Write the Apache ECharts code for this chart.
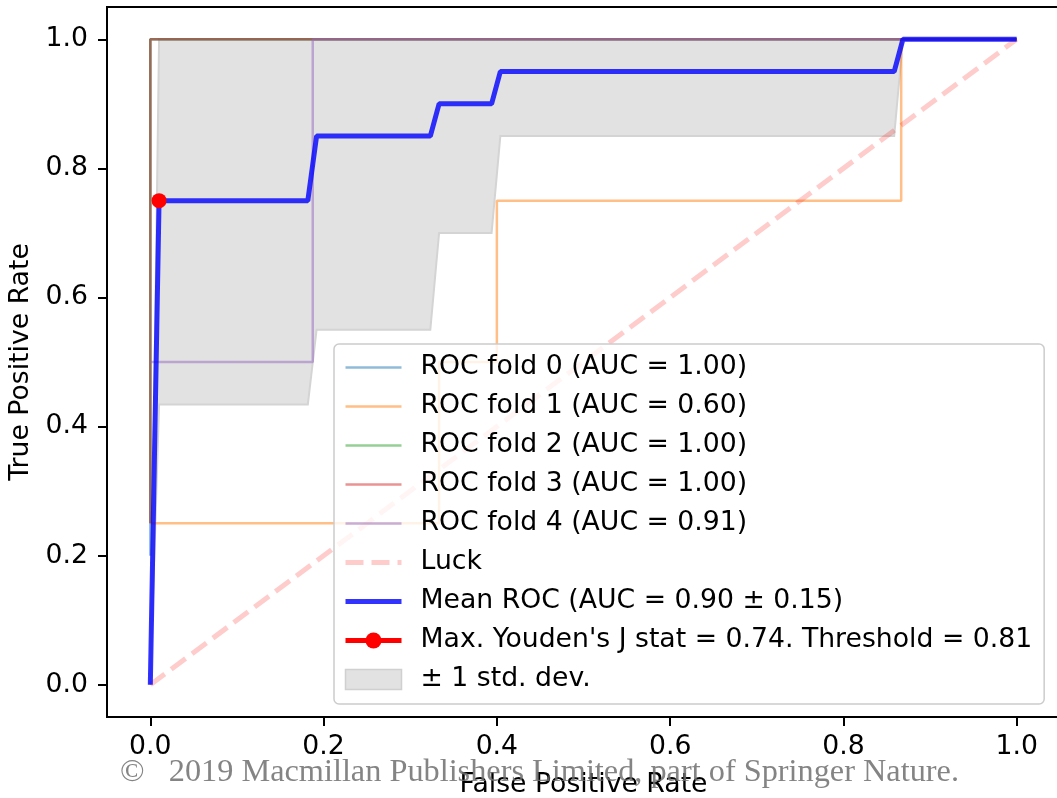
<!DOCTYPE html>
<html>
<head>
<meta charset="utf-8">
<script src="https://cdn.jsdelivr.net/npm/echarts@6/dist/echarts.min.js"></script>
<style>
  html, body { margin: 0; padding: 0; background: #fff; }
  #main { width: 1057px; height: 798px; }
</style>
</head>
<body>
<div id="main"></div>
<script>
// tick labels
const xTicks = [0, 0.2, 0.4, 0.6, 0.8, 1.0]
const yTicks = [0, 0.2, 0.4, 0.6, 0.8, 1.0]

// per-fold ROC curves
const fold0Fpr = [0, 0, 1]
const fold0Tpr = [0.2, 1, 1]
const fold1Fpr = [0, 0.3333, 0.3333, 0.4, 0.4, 0.8667, 0.8667, 1]
const fold1Tpr = [0.25, 0.25, 0.5, 0.5, 0.75, 0.75, 1, 1]
const fold2Fpr = [0, 0, 1]
const fold2Tpr = [0.25, 1, 1]
const fold3Fpr = [0, 0, 1]
const fold3Tpr = [0.25, 1, 1]
const fold4Fpr = [0, 0.1875, 0.1875, 1]
const fold4Tpr = [0.5, 0.5, 1, 1]
const foldNames = [
  'ROC fold 0 (AUC = 1.00)',
  'ROC fold 1 (AUC = 0.60)',
  'ROC fold 2 (AUC = 1.00)',
  'ROC fold 3 (AUC = 1.00)',
  'ROC fold 4 (AUC = 0.91)'
]

// chance line
const luckFpr = [0, 1]
const luckTpr = [0, 1]

// mean ROC and ±1 std band
const meanFpr = [0, 0.0101, 0.1818, 0.1919, 0.3232, 0.3333, 0.3939, 0.4040, 0.8586, 0.8687, 1]
const meanTpr = [0, 0.75, 0.75, 0.85, 0.85, 0.90, 0.90, 0.95, 0.95, 1, 1]
const bandLower = [0, 0.434, 0.434, 0.55, 0.55, 0.70, 0.70, 0.85, 0.85, 1, 1]
const bandUpper = [0, 1, 1, 1, 1, 1, 1, 1, 1, 1, 1]

// Youden point
const youdenFpr = [0.0101]
const youdenTpr = [0.75]

const FONT = 'DejaVu Sans'
const FS = 26.7
const zip = (xs, ys) => xs.map((x, i) => [x, ys[i]])

let myChart = echarts.init(document.getElementById('main'), null, { renderer: 'canvas' })

const foldColors = [
  'rgba(31,119,180,0.5)',
  'rgba(255,127,14,0.5)',
  'rgba(44,160,44,0.5)',
  'rgba(214,39,40,0.5)',
  'rgba(148,103,189,0.5)'
]
const foldData = [
  zip(fold0Fpr, fold0Tpr),
  zip(fold1Fpr, fold1Tpr),
  zip(fold2Fpr, fold2Tpr),
  zip(fold3Fpr, fold3Tpr),
  zip(fold4Fpr, fold4Tpr)
]
const meanName = 'Mean ROC (AUC = 0.90 ± 0.15)'
const youdenName = "Max. Youden's J stat = 0.74. Threshold = 0.81"
const bandName = '± 1 std. dev.'

let series = []
// ±1 std band as one polygon (upper edge forward, lower edge back)
series.push({
  name: bandName,
  type: 'custom',
  silent: true,
  itemStyle: { color: '#e2e2e2' },
  data: meanFpr.map((x, i) => [x, bandLower[i], bandUpper[i]]),
  encode: { x: 0, y: [1, 2] },
  renderItem: function (params, api) {
    if (params.dataIndex !== 0) return null
    let pts = []
    for (let i = 0; i < meanFpr.length; i++) pts.push(api.coord([meanFpr[i], bandUpper[i]]))
    for (let i = meanFpr.length - 1; i >= 0; i--) pts.push(api.coord([meanFpr[i], bandLower[i]]))
    return {
      type: 'polygon',
      shape: { points: pts },
      style: { fill: '#e2e2e2', stroke: '#d4d4d4', lineWidth: 2 }
    }
  },
  z: 1
})
for (let i = 0; i < 5; i++) {
  series.push({
    name: foldNames[i],
    type: 'line',
    symbol: 'none',
    data: foldData[i],
    itemStyle: { color: foldColors[i] },
    lineStyle: { color: foldColors[i], width: 2.5 },
    z: 2
  })
}
series.push({
  name: 'Luck',
  type: 'line',
  symbol: 'none',
  data: zip(luckFpr, luckTpr),
  itemStyle: { color: 'rgba(255,0,0,0.2)' },
  lineStyle: { color: 'rgba(255,0,0,0.2)', width: 5, type: [18, 8] },
  z: 2
})
series.push({
  name: meanName,
  type: 'line',
  symbol: 'none',
  data: zip(meanFpr, meanTpr),
  itemStyle: { color: 'rgba(0,0,255,0.8)' },
  lineStyle: { color: 'rgba(0,0,255,0.8)', width: 5 },
  z: 2
})
series.push({
  name: youdenName,
  type: 'line',
  symbol: 'circle',
  symbolSize: 15,
  showSymbol: true,
  data: zip(youdenFpr, youdenTpr),
  itemStyle: { color: '#ff0000' },
  lineStyle: { color: '#ff0000', width: 5 },
  z: 3
})

const axisCommon = {
  type: 'value',
  min: -0.05,
  max: 1.05,
  splitLine: { show: false },
  axisLine: { show: true, onZero: false, lineStyle: { color: '#000', width: 2 } },
  axisTick: { show: true, length: 9, lineStyle: { color: '#000', width: 2 } },
  nameLocation: 'middle',
  nameTextStyle: { fontFamily: FONT, fontSize: FS, color: '#000' }
}

// legend entries: lines without the default symbol
let legendData = foldNames.map(n => ({ name: n, itemStyle: { opacity: 0 }, lineStyle: { width: 2.5 } }))
legendData.push({ name: 'Luck', itemStyle: { opacity: 0 }, lineStyle: { width: 5 } })
legendData.push({ name: meanName, itemStyle: { opacity: 0 }, lineStyle: { width: 5 } })
legendData.push({ name: youdenName, lineStyle: { width: 5 } })
legendData.push({ name: bandName, icon: 'rect', itemStyle: { color: '#e2e2e2', borderColor: '#d0d0d0', borderWidth: 1.5 } })

let option = {
  animation: false,
  backgroundColor: '#fff',
  grid: {
    left: 107, top: 7, width: 953, height: 710,
    show: true, borderColor: '#000', borderWidth: 2,
    outerBoundsMode: 'none', containLabel: false
  },
  xAxis: Object.assign({}, axisCommon, {
    name: 'False Positive Rate',
    nameGap: 55,
    axisTick: Object.assign({}, axisCommon.axisTick, { customValues: xTicks }),
    axisLabel: {
      customValues: xTicks, margin: 17,
      fontFamily: FONT, fontSize: FS, color: '#000',
      formatter: v => v.toFixed(1)
    }
  }),
  yAxis: Object.assign({}, axisCommon, {
    name: 'True Positive Rate',
    nameGap: 71,
    axisTick: Object.assign({}, axisCommon.axisTick, { customValues: yTicks }),
    axisLabel: {
      customValues: yTicks, margin: 19,
      fontFamily: FONT, fontSize: FS, color: '#000',
      formatter: v => v.toFixed(1)
    }
  }),
  legend: {
    orient: 'vertical',
    left: 334,
    top: 344,
    padding: [10, 12, 11, 9],
    itemWidth: 56,
    itemHeight: 20,
    itemGap: 12,
    selectedMode: false,
    backgroundColor: 'rgba(255,255,255,0.8)',
    borderColor: '#cccccc',
    borderWidth: 1.5,
    borderRadius: 5,
    textStyle: { fontFamily: FONT, fontSize: FS, color: '#000', lineHeight: 27, padding: [0, 0, 0, 14] },
    data: legendData,
    z: 10
  },
  graphic: [{
    type: 'text',
    left: 120,
    top: 757,
    z: 100,
    style: {
      text: '\u00a9   2019 Macmillan Publishers Limited, part of Springer Nature.',
      font: '32.3px "Liberation Serif"',
      fill: 'rgba(110,110,110,0.85)'
    }
  }],
  series: series
}
myChart.setOption(option)
</script>
</body>
</html>
